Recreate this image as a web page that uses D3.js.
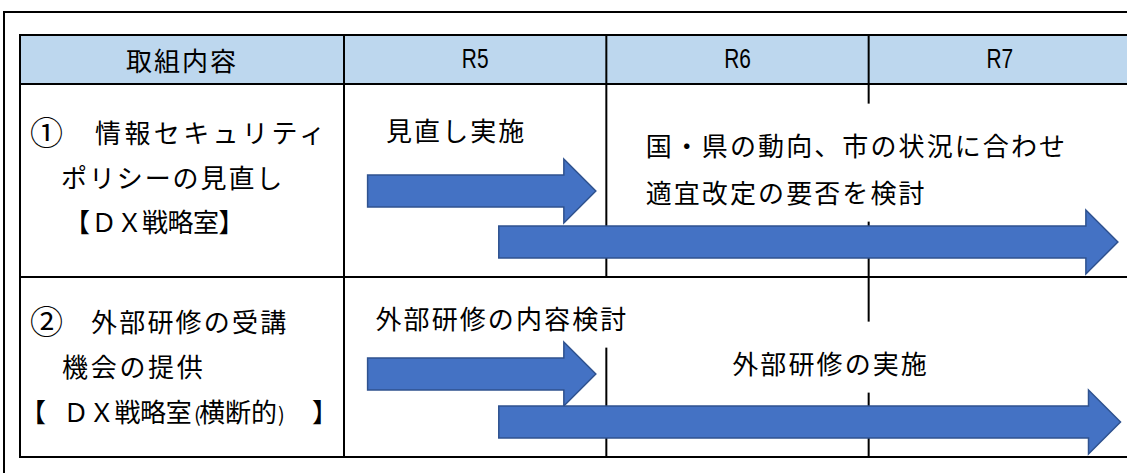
<!DOCTYPE html>
<html><head><meta charset="utf-8">
<script src="https://cdn.jsdelivr.net/npm/d3@7"></script>
<style>html,body{margin:0;padding:0;background:#fff;} svg{display:block;}</style>
</head><body>
<svg id="chart" width="1127" height="473"></svg>
<script>
// ---------------- data ----------------
const headerLabel = "取組内容";
const years = ["R5", "R6", "R7"];
const yearDomain = [5, 8];               // R5 start .. R7 end (fiscal-year units)
const itemMarkers = ["①", "②"];
// each label line is a list of text pieces
const itemLines = [
  [["情報セキュリティ"], ["ポリシーの見直し"], ["【", "ＤＸ戦略室】"]],
  [["外部研修の受講"], ["機会の提供"], ["【", "ＤＸ戦略室", "(", "横断的", ")", "】"]]
];
// arrows (fiscal-year units)
const arrowRow   = [0, 0, 1, 1];
const arrowLane  = [0, 1, 0, 1];
const arrowStart = [5.09, 5.59, 5.09, 5.59];
const arrowEnd   = [5.96, 7.95, 5.96, 7.96];
// notes (text boxes in the schedule area)
const noteRow   = [0, 0, 1, 1];
const noteSlot  = [0, 1, 0, 1];
const noteStart = [5.16, 6.15, 5.12, 6.48];
const noteLines = [
  ["見直し実施"],
  ["国・県の動向、市の状況に合わせ", "適宜改定の要否を検討"],
  ["外部研修の内容検討"],
  ["外部研修の実施"]
];

// ---------------- layout ----------------
const JP = "'Noto Sans CJK JP', 'Noto Sans CJK SC', sans-serif";
const LAT = "'Liberation Sans', Arial, sans-serif";
const FS = 26;
const BASE = 0.37 * FS;                       // centre -> baseline for CJK glyphs
const tableLeft = 20, labelColRight = 344, tableRight = 1131;
const rowEdges = [35, 84, 277, 457];          // header top, header bottom, row1 bottom, table bottom
const laneOffset = [[107, 158], [97, 145]];   // arrow centre offsets within each row
const labelLineOffset = [[49, 94, 138], [45, 90, 135]];
// per piece: [x, letter-spacing, font-size]
const labelPieces = [
  [[[95, 3.4, FS]], [[61, 1.9, FS]], [[64, 0, FS], [91, -0.5, FS]]],
  [[[91, 2.2, FS]], [[62, 2.7, FS]], [[20, 0, FS], [63, -0.3, FS], [194, 0, 20], [199, 0, FS], [278, 0, 20], [312, 0, FS]]]
];
const noteFirstOffset = [[47, 62], [42, 87]];
const noteLineGap = 47;
const noteSpacing = 2.1;
const bodyH = 32, headH = 64, headLen = 32;

const svg = d3.select("#chart");
const x = d3.scaleLinear().domain(yearDomain).range([labelColRight, tableRight]);
const rowTop = i => rowEdges[i + 1];

// outer frame
svg.append("path").attr("d", "M4,480V12H1140")
  .attr("fill", "none").attr("stroke", "#000").attr("stroke-width", 2);

// header fill
svg.append("rect").attr("x", tableLeft).attr("y", rowEdges[0])
  .attr("width", tableRight - tableLeft).attr("height", rowEdges[1] - rowEdges[0])
  .attr("fill", "#BDD7EE");

// vertical grid lines
const vgrid = svg.append("g").attr("stroke", "#000").attr("stroke-width", 2);
[tableLeft, labelColRight].forEach(xx => vgrid.append("line").attr("x1", xx).attr("x2", xx).attr("y1", rowEdges[0]).attr("y2", rowEdges[3]));
d3.range(yearDomain[0] + 1, yearDomain[1]).forEach(v =>
  vgrid.append("line").attr("x1", x(v)).attr("x2", x(v)).attr("y1", rowEdges[0]).attr("y2", rowEdges[3]));

// notes with white boxes (they hide parts of the year dividers)
const boxLayer = svg.append("g");
const noteLayer = svg.append("g");
noteLines.forEach((lines, n) => {
  const r = noteRow[n];
  const box = boxLayer.append("rect").attr("fill", "#fff");
  const y0 = rowTop(r) + noteFirstOffset[r][noteSlot[n]];
  const texts = lines.map((t, k) => noteLayer.append("text")
    .attr("x", x(noteStart[n])).attr("y", y0 + k * noteLineGap + BASE)
    .attr("font-family", JP).attr("font-size", FS).attr("letter-spacing", noteSpacing).text(t));
  const bbs = texts.map(t => t.node().getBBox());
  const x0 = d3.min(bbs, b => b.x) - 14, x1 = d3.max(bbs, b => b.x + b.width) + 14;
  const yTop = d3.min(bbs, b => b.y) - 22, yBot = d3.max(bbs, b => b.y + b.height) + 12;
  box.attr("x", x0).attr("y", yTop).attr("width", x1 - x0).attr("height", yBot - yTop);
});

// horizontal grid lines on top of the boxes
const hgrid = svg.append("g").attr("stroke", "#000").attr("stroke-width", 2);
rowEdges.forEach(y => hgrid.append("line").attr("x1", tableLeft - 1).attr("x2", tableRight).attr("y1", y).attr("y2", y));

// header texts
svg.append("text").attr("x", (tableLeft + labelColRight) / 2).attr("y", 61 + BASE)
  .attr("text-anchor", "middle").attr("font-family", JP).attr("font-size", FS)
  .attr("letter-spacing", 2).text(headerLabel);
svg.selectAll("text.year").data(years).join("text").attr("class", "year")
  .attr("transform", (d, i) => {
    const cx = (x(yearDomain[0] + i) + x(yearDomain[0] + i + 1)) / 2;
    return `translate(${cx},${58 + 10}) scale(0.76,1)`;
  })
  .attr("text-anchor", "middle")
  .attr("font-family", LAT).attr("font-size", 27.5).text(d => d);

// item labels
itemLines.forEach((lines, r) => {
  svg.append("text").attr("x", 30).attr("y", rowTop(r) + labelLineOffset[r][0] + 0.36 * 33)
    .attr("font-family", JP).attr("font-size", 33).text(itemMarkers[r]);
  lines.forEach((pieces, k) => {
    pieces.forEach((t, p) => {
      const [px, ls, fs] = labelPieces[r][k][p];
      svg.append("text").attr("x", px).attr("y", rowTop(r) + labelLineOffset[r][k] + BASE)
        .attr("font-family", JP).attr("font-size", fs).attr("letter-spacing", ls).text(t);
    });
  });
});

// arrows
const arrowPath = (x0, x1, cy) => {
  const xb = x1 - headLen;
  return `M${x0},${cy - bodyH / 2}H${xb}V${cy - headH / 2}L${x1},${cy}L${xb},${cy + headH / 2}V${cy + bodyH / 2}H${x0}Z`;
};
svg.selectAll("path.arrow").data(arrowStart).join("path").attr("class", "arrow")
  .attr("d", (d, i) => arrowPath(x(arrowStart[i]), x(arrowEnd[i]), rowTop(arrowRow[i]) + laneOffset[arrowRow[i]][arrowLane[i]]))
  .attr("fill", "#4472C4").attr("stroke", "#2F528F").attr("stroke-width", 1.5);
</script>
</body></html>
